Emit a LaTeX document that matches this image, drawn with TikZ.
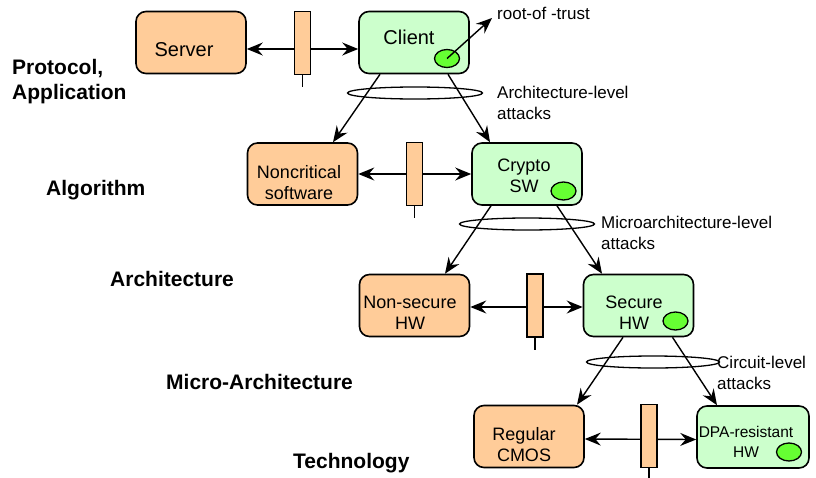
\documentclass[tikz,border=0pt]{standalone}
\usepackage{fontspec}
\setmainfont{Liberation Sans}
\usetikzlibrary{arrows.meta, shapes.geometric}

\definecolor{plainfill}{HTML}{FFCC99}
\definecolor{safefill}{HTML}{CCFFCC}
\definecolor{rotfill}{HTML}{66FF33}

\begin{document}
\begin{tikzpicture}[x=1pt, y=-1pt, >={Stealth[length=16pt, width=13pt, inset=5.5pt]},
  box/.style={draw, line width=1.6pt, rounded corners=10pt, minimum width=110pt, minimum height=62pt},
  plainbox/.style={box, fill=plainfill},
  safebox/.style={box, fill=safefill},
  gate/.style={draw, line width=1.3pt, fill=plainfill, minimum width=16pt, minimum height=63pt, inner sep=0pt},
  rot/.style={draw, line width=1.3pt, fill=rotfill, ellipse, minimum width=25pt, minimum height=18pt, inner sep=0pt},
  ring/.style={draw, line width=1.3pt, ellipse, minimum width=135pt, minimum height=12pt, inner sep=0pt},
  link/.style={line width=1.4pt, ->},
  both/.style={line width=1.4pt, <->},
  layer/.style={anchor=west, align=left, inner sep=0pt, font=\bfseries\fontsize{21}{25}\selectfont},
  boxtext/.style={align=center, font=\fontsize{18}{21}\selectfont},
  note/.style={anchor=west, align=left, inner sep=0pt, font=\fontsize{17}{21}\selectfont}]

  \useasboundingbox (0,0) rectangle (816,477);

  % abstraction levels
  \node[layer] (proto) at (12,82) {Protocol,\\Application};
  \node[layer] (algo) at (46,190) {Algorithm};
  \node[layer] (arch) at (110,279) {Architecture};
  \node[layer] (march) at (166,382) {Micro-Architecture};
  \node[layer] (tech) at (293,463) {Technology};

  % boxes
  \node[plainbox] (server) at (191,42.5) {};
  \node[safebox] (client) at (414,42.5) {};
  \node[plainbox] (noncrit) at (302.5,174) {};
  \node[safebox] (crypto) at (527,174) {};
  \node[plainbox] (nonsec) at (414.5,305.5) {};
  \node[safebox] (secure) at (638.5,305.5) {};
  \node[plainbox] (regular) at (529,436.5) {};
  \node[safebox, minimum width=112pt] (dpa) at (753,437) {};

  \node[boxtext, font=\fontsize{20}{24}\selectfont] (server-txt) at (184,50) {Server};
  \node[boxtext, font=\fontsize{20}{24}\selectfont] (client-txt) at (409,37) {Client};
  \node[boxtext] (noncrit-txt) at (299,182.5) {Noncritical\\software};
  \node[boxtext] (crypto-txt) at (524,175.5) {Crypto\\SW};
  \node[boxtext] (nonsec-txt) at (410,312.5) {Non-secure\\HW};
  \node[boxtext] (secure-txt) at (634,312.5) {Secure\\HW};
  \node[boxtext] (regular-txt) at (524,445) {Regular\\CMOS};
  \node[boxtext, font=\fontsize{15.5}{20}\selectfont] (dpa-txt) at (746,442) {DPA-resistant\\HW};

  % roots of trust
  \node[rot] (client-rot) at (447,58.5) {};
  \node[rot] (crypto-rot) at (563.5,191) {};
  \node[rot] (secure-rot) at (675.5,321) {};
  \node[rot] (dpa-rot) at (789,452) {};

  \coordinate (trust) at (492,18);
  \draw[link] (client-rot.center) -- (trust);
  \node[note] (trust-txt) at (497,13) {root-of -trust};

  % channels between the two sides
  \draw[both] ([yshift=-6.5pt]server.east) -- ([yshift=-6.5pt]client.west);
  \draw[both] (noncrit.east) -- (crypto.west);
  \draw[both] ([yshift=-1.5pt]nonsec.east) -- ([yshift=-1.5pt]secure.west);
  \draw[both] ([yshift=-2.5pt]regular.east) -- ([yshift=-2.5pt]dpa.west);

  \node[gate] (gate1) at (302.5,43) {};
  \node[gate] (gate2) at (414.5,174) {};
  \node[gate] (gate3) at (535,305.5) {};
  \node[gate] (gate4) at (649,436) {};
  \foreach \g in {gate1, gate2, gate3, gate4}
    \draw[line width=1.3pt] (\g.south) -- ++(0,12);

  % refinement to the next level
  \draw[link] ([xshift=-34pt]client.south) -- ([xshift=30.5pt]noncrit.north);
  \draw[link] ([xshift=34pt]client.south) -- ([xshift=-37pt]crypto.north);
  \draw[link] ([xshift=-36pt]crypto.south) -- ([xshift=30.5pt]nonsec.north);
  \draw[link] ([xshift=30pt]crypto.south) -- ([xshift=-36.5pt]secure.north);
  \draw[link] ([xshift=-15.5pt]secure.south) -- ([xshift=48pt]regular.north);
  \draw[link] ([xshift=34pt]secure.south) -- ([xshift=-36pt]dpa.north);

  % attacks
  \node[ring] (ring1) at (415,93) {};
  \node[ring] (ring2) at (527,224) {};
  \node[ring, minimum width=133pt] (ring3) at (653,362) {};
  \node[note] (ring1-txt) at (497,102.5) {Architecture-level\\attacks};
  \node[note] (ring2-txt) at (601,233) {Microarchitecture-level\\attacks};
  \node[note] (ring3-txt) at (717,372.5) {Circuit-level\\attacks};
\end{tikzpicture}
\end{document}
